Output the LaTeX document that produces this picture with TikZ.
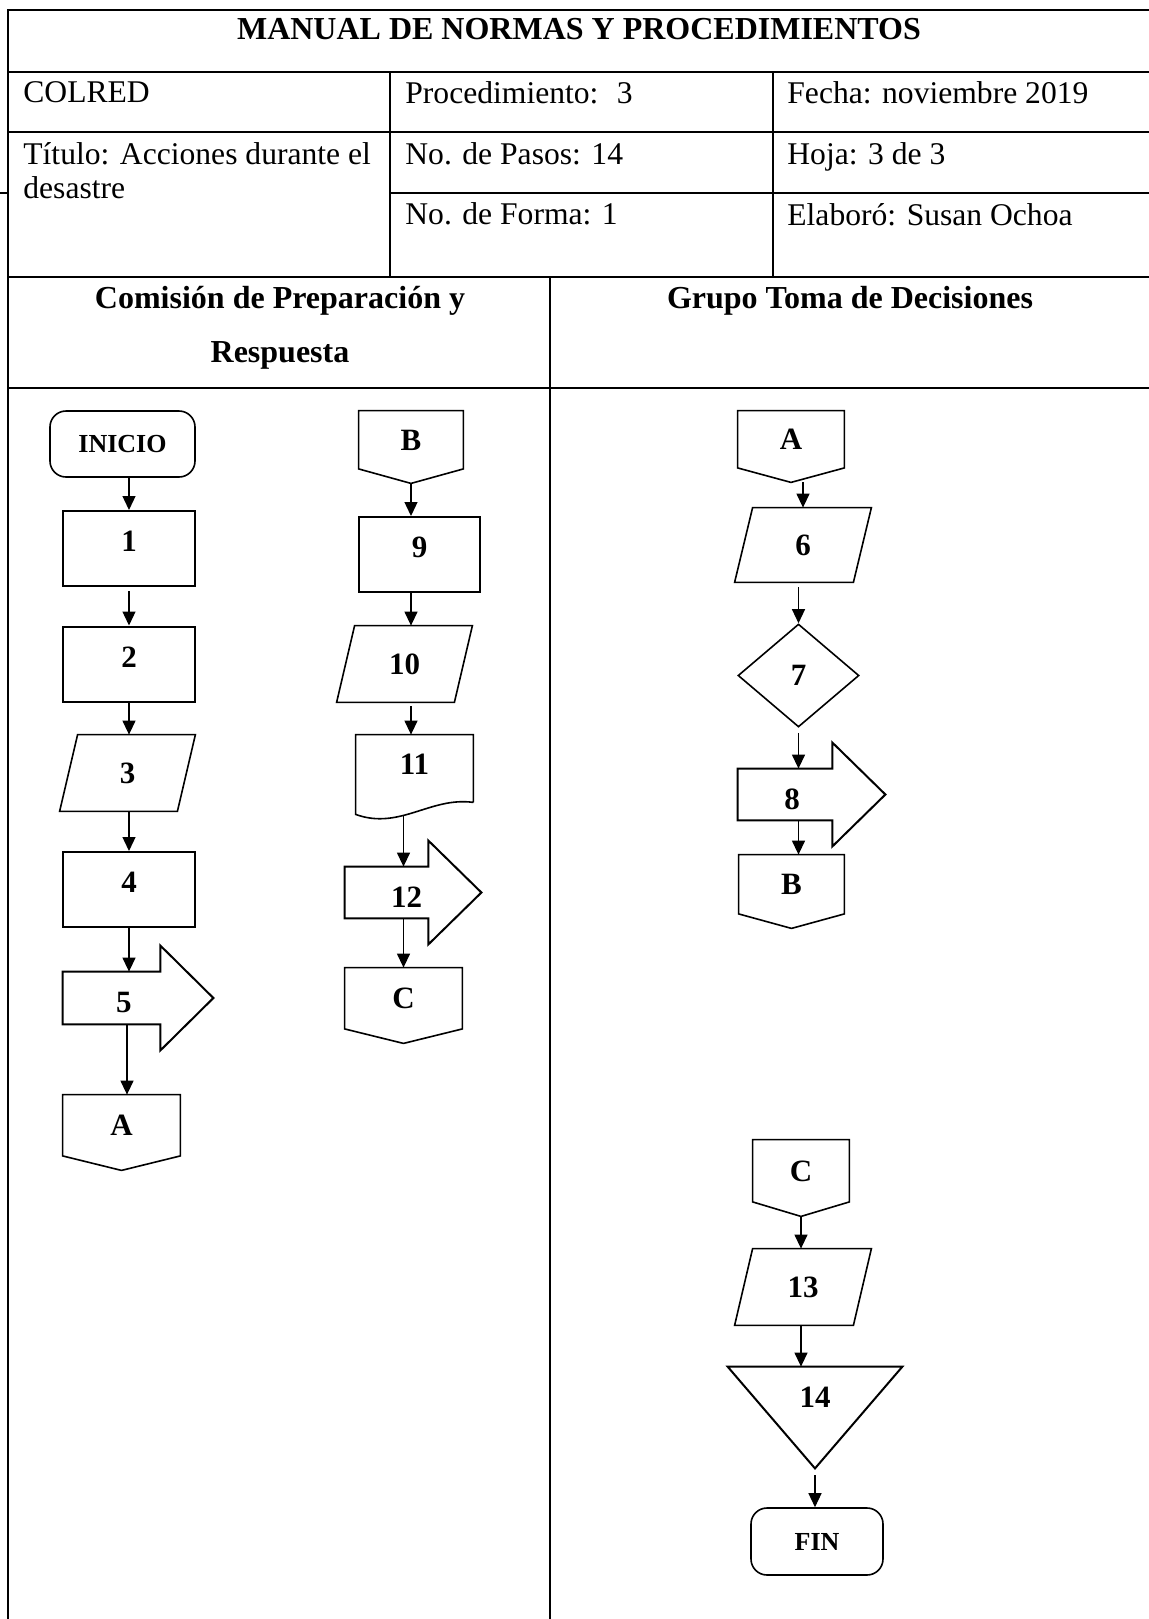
\documentclass[tikz,border=0pt]{standalone}
\usepackage{fontspec}
\setmainfont{Liberation Serif}
\usetikzlibrary{arrows.meta,calc,shapes.geometric}
\newcommand\cellfont{\fontsize{15.8}{18}\selectfont}
\newcommand\numfont{\fontsize{15.5}{18}\selectfont\bfseries}
\newcommand\termfont{\fontsize{13}{15}\selectfont\bfseries}
\def\offpage(#1){\draw[shp] (#1.north west) -- (#1.north east) -- ([yshift=7.25pt]#1.south east) -- (#1.south) -- ([yshift=7.25pt]#1.south west) -- cycle;}
\def\iobox(#1){\draw[shp] ([xshift=9pt]#1.north west) -- (#1.north east) -- ([xshift=-9pt]#1.south east) -- (#1.south west) -- cycle;}
\def\blockarrow(#1){\draw[line width=1pt] (#1.north west) -- (#1.north east) -- ([yshift=13pt]#1.north east) -- ([xshift=26.5pt]#1.east) -- ([yshift=-13pt]#1.south east) -- (#1.south east) -- (#1.south west) -- cycle;}
\def\docshape(#1){\draw[shp] (#1.south east) -- (#1.north east) -- (#1.north west) -- ([yshift=-6pt]#1.south west) .. controls ([xshift=22pt,yshift=-14pt]#1.south west) and ([xshift=-21.5pt,yshift=3pt]#1.south east) .. (#1.south east);}
\def\downtri(#1){\draw[line width=1pt] (#1.north west) -- (#1.north east) -- (#1.south) -- cycle;}
\tikzset{
	shp/.style={line width=0.8pt},
	tabline/.style={line width=1pt},
	thinline/.style={line width=0.6pt},
	flow/.style={-{Triangle[length=7pt,width=6.5pt]}, line width=0.65pt},
	cell/.style={anchor=base west, inner sep=0, font=\cellfont},
	lane/.style={anchor=base, inner sep=0, font=\fontsize{16}{18}\selectfont\bfseries},
	box/.style={draw, line width=1pt, inner sep=0, minimum height=37.5pt, text depth=7pt, font=\numfont},
	term/.style={draw, line width=0.8pt, rounded corners=8pt, inner sep=0, font=\termfont},
	hold/.style={inner sep=0, font=\numfont},
	decision/.style={draw, diamond, line width=0.8pt, inner sep=0, font=\numfont}
}
\begin{document}
\begin{tikzpicture}[x=0.5pt, y=-0.5pt]
			%%%%% START %%%%%
			\useasboundingbox (0,0) rectangle (1149,1619);
			
			% table
			\draw[tabline] (7,10) -- (1149,10);
			\draw[tabline] (8,72) -- (1149,72);
			\draw[tabline] (8,132) -- (1149,132);
			\draw[tabline] (390,193) -- (1149,193);
			\draw[tabline] (8,277) -- (1149,277);
			\draw[tabline] (8,388) -- (1149,388);
			\draw[thinline] (8,10) -- (8,1619);
			\draw[thinline] (390,72) -- (390,277);
			\draw[thinline] (773,72) -- (773,277);
			\draw[thinline] (550,277) -- (550,1619);
			\draw[thinline] (0,193) -- (8,193);
			
			\node[lane] (title) at (579,39) {MANUAL DE NORMAS Y PROCEDIMIENTOS};
			\node[cell] (colred) at (23,102) {COLRED};
			\node[cell] (proc) at (405,103) {Procedimiento:~ 3};
			\node[cell] (fecha) at (787,103) {Fecha: noviembre 2019};
			\node[cell] (titulo) at (23,164) {Título: Acciones durante el};
			\node[cell] (titulob) at (23,198) {desastre};
			\node[cell] (pasos) at (405,164) {No. de Pasos: 14};
			\node[cell] (hoja) at (787,164) {Hoja: 3 de 3};
			\node[cell] (forma) at (405,224) {No. de Forma: 1};
			\node[cell] (elab) at (787,225) {Elaboró: Susan Ochoa};
			\node[lane] (comision) at (280,308) {Comisión de Preparación y};
			\node[lane] (respuesta) at (280,362) {Respuesta};
			\node[lane] (grupo) at (850,308) {Grupo Toma de Decisiones};
			
			% left lane, first column
			\node[term, minimum width=72.5pt, minimum height=33pt] (inicio) at (122.5,444) {INICIO};
			\node[box, minimum width=66pt] (n1) at (129,548.5) {1};
			\node[box, minimum width=66pt] (n2) at (129,664) {2};
			\node[hold, minimum width=67.5pt, minimum height=38pt] (n3) at (127.5,773) {3};
			\iobox(n3)
			\node[box, minimum width=66pt] (n4) at (129,889.5) {4};
			\node[hold, minimum width=48.5pt, minimum height=26pt, text height=15pt] (n5) at (111.5,998) {\hspace{12.5pt}5};
			\blockarrow(n5)
			\node[hold, minimum width=58.5pt, minimum height=37.5pt, text depth=7pt] (a1) at (121.5,1132.5) {A};
			\offpage(a1)
			
			\draw[flow] (n1.north |- inicio.south) -- (n1.north);
			\draw[flow, shorten <=2pt] (n1.south) -- (n2.north);
			\draw[flow] (n2.south) -- (n2.south |- n3.north);
			\draw[flow] (n4.north |- n3.south) -- (n4.north);
			\draw[flow] (n4.south) -- (n4.south |- n5.north);
			\draw[flow] ($(a1.north |- n5.south)+(5.5,0)$) -- ($(a1.north)+(5.5,0)$);
			
			% left lane, second column
			\node[hold, minimum width=52pt, minimum height=36pt, text depth=7pt] (b1) at (411,447) {B};
			\offpage(b1)
			\node[box, minimum width=60.5pt] (n9) at (419.5,554.5) {9\hspace{9.5pt}};
			\node[hold, minimum width=67.5pt, minimum height=38pt] (n10) at (404.5,664) {10};
			\iobox(n10)
			\node[hold, minimum width=58.5pt, minimum height=33.5pt, text depth=4.5pt] (n11) at (414.5,768.5) {11\hspace{8.5pt}};
			\docshape(n11)
			\node[hold, minimum width=41.5pt, minimum height=25.5pt, text height=15pt] (n12) at (386.5,892.5) {\hspace{20pt}12};
			\blockarrow(n12)
			\node[hold, minimum width=58.5pt, minimum height=37.5pt, text depth=7pt] (c1) at (403.5,1005.5) {C};
			\offpage(c1)
			
			\draw[flow] (b1.south) -- (b1.south |- n9.north);
			\draw[flow] (b1.south |- n9.south) -- (b1.south |- n10.north);
			\draw[flow, shorten <=2pt] (b1.south |- n10.south) -- (b1.south |- n11.north);
			\draw[flow] ($(c1.north |- n11.south)+(0,14)$) -- (c1.north |- n12.north);
			\draw[flow] (c1.north |- n12.south) -- (c1.north);
			
			% right lane
			\node[hold, minimum width=53pt, minimum height=35.5pt, text depth=7pt] (a2) at (791,446.5) {A};
			\offpage(a2)
			\node[hold, minimum width=68pt, minimum height=37pt] (n6) at (803,545) {6};
			\iobox(n6)
			\node[decision, minimum width=60.5pt, minimum height=51.5pt] (n7) at (798.5,675.5) {7};
			\node[hold, minimum width=47pt, minimum height=25.5pt, text height=15pt] (n8) at (785,794.5) {\hspace{7pt}8};
			\blockarrow(n8)
			\node[hold, minimum width=52.5pt, minimum height=36.5pt, text depth=7pt] (b2) at (791.5,891.5) {B};
			\offpage(b2)
			
			\draw[flow] (n6.north |- a2.south) -- (n6.north);
			\draw[flow, shorten <=2.5pt] (n7.north |- n6.south) -- (n7.north);
			\draw[flow, shorten <=2.5pt] (n7.south) -- (n7.south |- n8.north);
			\draw[flow] (n7.south |- n8.south) -- (n7.south |- b2.north);
			
			\node[hold, minimum width=48pt, minimum height=38pt, text depth=7pt] (c2) at (801,1178) {C};
			\offpage(c2)
			\node[hold, minimum width=68pt, minimum height=38pt] (n13) at (803,1287) {13};
			\iobox(n13)
			\node[hold, minimum width=87pt, minimum height=50.5pt, text depth=20.5pt] (n14) at (815,1417.5) {14};
			\downtri(n14)
			\node[term, minimum width=66pt, minimum height=33.5pt] (fin) at (817,1541.5) {FIN};
			
			\draw[flow] (c2.south) -- (c2.south |- n13.north);
			\draw[flow] (c2.south |- n13.south) -- (c2.south |- n14.north);
			\draw[flow, shorten <=3.5pt] (n14.south) -- (n14.south |- fin.north);
			
			%%%%% END %%%%%
\end{tikzpicture}
\end{document}
